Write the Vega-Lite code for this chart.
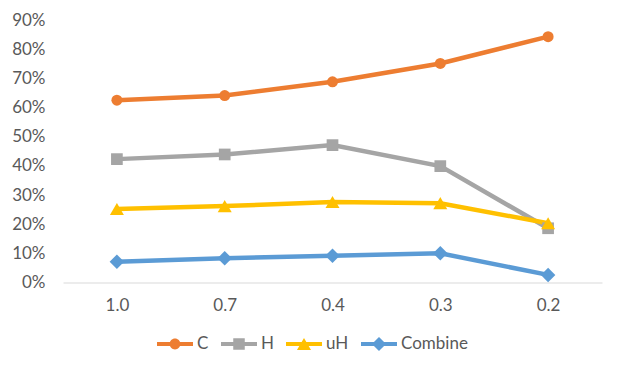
{
  "$schema": "https://vega.github.io/schema/vega-lite/v6.json",
  "width": 539,
  "height": 262.5,
  "autosize": "none",
  "padding": {"left": 63, "top": 20, "right": 21, "bottom": 89.5},
  "background": "white",
  "config": {
    "view": {"stroke": null},
    "font": "Lato",
    "legend": {"symbolOpacity": 1, "symbolStrokeWidth": 0, "symbolSize": 1296}
  },
  "data": {
    "values": [
      {"t": "1.0", "s": "C", "v": 0.625},
      {"t": "0.7", "s": "C", "v": 0.641},
      {"t": "0.4", "s": "C", "v": 0.688},
      {"t": "0.3", "s": "C", "v": 0.751},
      {"t": "0.2", "s": "C", "v": 0.843},
      {"t": "1.0", "s": "H", "v": 0.423},
      {"t": "0.7", "s": "H", "v": 0.439},
      {"t": "0.4", "s": "H", "v": 0.471},
      {"t": "0.3", "s": "H", "v": 0.399},
      {"t": "0.2", "s": "H", "v": 0.186},
      {"t": "1.0", "s": "uH", "v": 0.252},
      {"t": "0.7", "s": "uH", "v": 0.262},
      {"t": "0.4", "s": "uH", "v": 0.276},
      {"t": "0.3", "s": "uH", "v": 0.272},
      {"t": "0.2", "s": "uH", "v": 0.203},
      {"t": "1.0", "s": "Combine", "v": 0.071},
      {"t": "0.7", "s": "Combine", "v": 0.083},
      {"t": "0.4", "s": "Combine", "v": 0.092},
      {"t": "0.3", "s": "Combine", "v": 0.1},
      {"t": "0.2", "s": "Combine", "v": 0.026}
    ]
  },
  "encoding": {
    "x": {
      "field": "t", "type": "ordinal",
      "sort": ["1.0", "0.7", "0.4", "0.3", "0.2"],
      "scale": {"type": "point", "padding": 0.5},
      "axis": {"title": null, "labelAngle": 0, "domain": true, "domainColor": "#D9D9D9", "domainWidth": 1, "ticks": false, "grid": false, "labelPadding": 15, "labelFont": "Lato", "labelFontSize": 17, "labelColor": "#595959"}
    },
    "y": {
      "field": "v", "type": "quantitative",
      "scale": {"domain": [0, 0.9], "nice": false},
      "axis": {"title": null, "format": ".0%", "values": [0, 0.1, 0.2, 0.3, 0.4, 0.5, 0.6, 0.7, 0.8, 0.9], "domain": false, "ticks": false, "grid": false, "labelPadding": 18, "labelFont": "Lato", "labelFontSize": 17, "labelColor": "#595959"}
    },
    "color": {
      "field": "s", "type": "nominal",
      "scale": {"domain": ["C", "H", "uH", "Combine"], "range": ["#ED7D31", "#A5A5A5", "#FFC000", "#5B9BD5"]},
      "legend": {
        "title": null,
        "orient": "none",
        "direction": "horizontal",
        "legendX": 94,
        "legendY": 306,
        "padding": 0,
        "symbolSize": 1296,
        "symbolStrokeWidth": 0,
        "symbolOpacity": 1,
        "labelFont": "Lato",
        "labelFontSize": 17,
        "labelColor": "#595959",
        "labelOffset": 4,
        "columnPadding": 12
      }
    }
  },
  "layer": [
    {"mark": {"type": "line", "strokeWidth": 4.5}},
    {"transform": [{"filter": "datum.s === 'C'"}], "mark": {"type": "point", "filled": true, "opacity": 1, "shape": "circle", "size": 121}},
    {"transform": [{"filter": "datum.s === 'H'"}], "mark": {"type": "point", "filled": true, "opacity": 1, "shape": "square", "size": 137}},
    {"transform": [{"filter": "datum.s === 'uH'"}], "mark": {"type": "point", "filled": true, "opacity": 1, "shape": "triangle-up", "size": 196}},
    {"transform": [{"filter": "datum.s === 'Combine'"}], "mark": {"type": "point", "filled": true, "opacity": 1, "shape": "diamond", "size": 210}},
    {
      "mark": {"type": "point", "filled": true, "opacity": 0},
      "encoding": {
        "shape": {
          "field": "s", "type": "nominal",
          "scale": {"domain": ["C", "H", "uH", "Combine"], "range": [
            "M-1,-0.11H1V0.11H-1Z M-0.3,0A0.3,0.3 0 1,1 0.3,0A0.3,0.3 0 1,1 -0.3,0Z",
            "M-1,-0.11H1V0.11H-1Z M-0.32,-0.32H0.32V0.32H-0.32Z",
            "M-1,-0.11H1V0.11H-1Z M0,-0.34L0.39,0.34L-0.39,0.34Z",
            "M-1,-0.11H1V0.11H-1Z M0,-0.39L0.39,0L0,0.39L-0.39,0Z"
          ]},
          "legend": {
            "title": null,
            "orient": "none",
            "direction": "horizontal",
            "legendX": 94,
            "legendY": 306,
            "padding": 0,
            "symbolSize": 1296,
            "symbolStrokeWidth": 0,
            "symbolOpacity": 1,
            "labelFont": "Lato",
            "labelFontSize": 17,
            "labelColor": "#595959",
            "labelOffset": 4,
            "columnPadding": 12
          }
        }
      }
    }
  ]
}
